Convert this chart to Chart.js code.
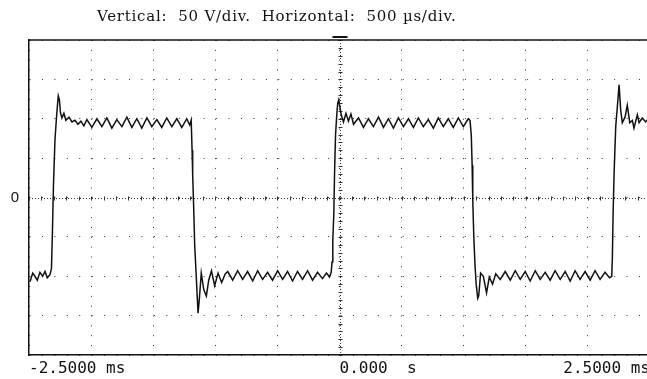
<!DOCTYPE html>
<html>
<head>
<meta charset="utf-8">
<script src="https://cdn.jsdelivr.net/npm/chart.js@4.4.1/dist/chart.umd.min.js"></script>
<style>
  html, body { margin: 0; padding: 0; background: #fff; overflow: hidden; }
  #wrap { position: relative; width: 647px; height: 379px; overflow: hidden; }
  #scope { position: absolute; left: 0; top: 0; }
  #title { position: absolute; left: 97px; top: 7px; font: 15px "DejaVu Serif", serif; letter-spacing: 0.75px; color: #111; white-space: pre; }
</style>
</head>
<body>
<div id="wrap">
  <canvas id="scope" width="654" height="379"></canvas>
  <div id="title">Vertical:  50 V/div.  Horizontal:  500 µs/div.</div>
</div>
<script>
// time in ms
const timeMs = [
  // low level at left edge
  -2.492, -2.470, -2.452, -2.433, -2.412, -2.390, -2.371, -2.353, -2.331,
  // first rising edge + overshoot
  -2.319, -2.311, -2.303, -2.291, -2.279, -2.271, -2.264, -2.255, -2.247, -2.235,
  -2.219, -2.203, -2.178, -2.154, -2.130, -2.106, -2.082, -2.058,
  // high plateau
  -2.034, -1.994, -1.953, -1.913, -1.873, -1.833, -1.793, -1.752, -1.712, -1.672,
  -1.632, -1.592, -1.551, -1.511, -1.471, -1.431, -1.391, -1.350, -1.310, -1.270,
  -1.230, -1.206,
  // falling edge + ringing
  -1.194, -1.187, -1.182, -1.174, -1.166, -1.154, -1.139, -1.129, -1.113, -1.093,
  -1.072, -1.053, -1.031, -1.005, -0.978, -0.949, -0.920,
  // low plateau
  -0.900, -0.860, -0.820, -0.780, -0.740, -0.699, -0.659, -0.619, -0.579, -0.539,
  -0.498, -0.458, -0.418, -0.378, -0.338, -0.297, -0.257, -0.217, -0.177, -0.137,
  -0.105, -0.080,
  // rising edge at trigger
  -0.067, -0.060, -0.054, -0.046, -0.040, -0.032, -0.022, -0.014, -0.006, 0.004,
  0.014, 0.032, 0.052, 0.072, 0.092, 0.113,
  // high plateau
  0.153, 0.193, 0.233, 0.273, 0.314, 0.354, 0.394, 0.434, 0.474, 0.515,
  0.555, 0.595, 0.635, 0.675, 0.715, 0.756, 0.796, 0.836, 0.876, 0.916,
  0.957, 0.997, 1.037,
  // falling edge + ringing
  1.051, 1.061, 1.068, 1.073, 1.081, 1.091, 1.101, 1.113, 1.121, 1.136,
  1.158, 1.184, 1.206, 1.232, 1.258,
  // low plateau
  1.294, 1.334, 1.375, 1.415, 1.455, 1.495, 1.535, 1.576, 1.616, 1.656,
  1.696, 1.736, 1.777, 1.817, 1.857, 1.897, 1.937, 1.978, 2.018, 2.058,
  2.098, 2.138, 2.174,
  // last rising edge
  2.192, 2.197, 2.203, 2.211, 2.224, 2.237, 2.251, 2.264, 2.277, 2.299,
  2.317, 2.337, 2.358, 2.371, 2.398, 2.412, 2.438, 2.465, 2.492
];

// volts, same order as timeMs
const volts = [
  -107, -96, -100, -105, -95, -100, -94, -102, -98,
  -90, -41, 16, 73, 101, 117, 129, 124, 108, 101,
  107, 98, 102, 96, 98, 93, 97, 91,
  99, 89, 100, 90, 101, 88, 99, 90, 102, 89,
  100, 88, 101, 90, 99, 89, 101, 90, 100, 89,
  100, 92,
  98, 60, 29, -13, -60, -98, -147, -130, -96, -117,
  -125, -105, -93, -112, -96, -108, -97,
  -94, -105, -93, -104, -94, -106, -93, -104, -95, -105,
  -93, -104, -94, -106, -94, -104, -93, -105, -95, -103,
  -96, -101,
  -95, -82, -54, -22, 29, 79, 105, 120, 124, 114,
  105, 96, 107, 97, 106, 93,
  101, 89, 100, 90, 102, 89, 100, 88, 101, 90,
  100, 89, 101, 90, 99, 88, 101, 90, 100, 89,
  101, 90, 100,
  98, 79, 41, -3, -48, -86, -111, -128, -125, -96,
  -100, -121, -101, -110, -97,
  -104, -94, -105, -93, -104, -94, -106, -93, -104, -95,
  -105, -93, -104, -94, -106, -93, -104, -94, -105, -93,
  -104, -95, -102,
  -100, -76, -20, 31, 90, 115, 143, 111, 95, 102,
  117, 95, 98, 88, 105, 95, 101, 96, 101
];

const xLabelValues = [-2.5, 0, 2.5];
const xLabelTexts = ['-2.5000 ms', '0.000  s', '2.5000 ms'];
const yZeroLabel = '0';

// centre cross with fine ticks, top frame, trigger marker
const scopeDecor = {
    id: 'scopeDecor',
    beforeDatasetsDraw(chart) {
        const { ctx, chartArea: a, scales: { x, y } } = chart;
        const cx = Math.round(x.getPixelForValue(0)) + 0.5;
        const cy = Math.round(y.getPixelForValue(0)) + 0.5;
        const subX = (x.getPixelForValue(0.5) - x.getPixelForValue(0)) / 5;
        const subY = (y.getPixelForValue(0) - y.getPixelForValue(50)) / 5;
        ctx.save();
        ctx.strokeStyle = '#333';
        ctx.lineWidth = 1;
        ctx.setLineDash([1, 2]);
        ctx.beginPath();
        ctx.moveTo(cx, a.top); ctx.lineTo(cx, a.bottom);
        ctx.moveTo(a.left, cy); ctx.lineTo(a.right, cy);
        ctx.stroke();
        ctx.setLineDash([]);
        ctx.beginPath();
        for (let py = a.top; py <= a.bottom; py += subY) {
            const yy = Math.round(py) + 0.5;
            ctx.moveTo(cx - 2, yy); ctx.lineTo(cx + 2, yy);
        }
        for (let px = a.left; px <= a.right; px += subX) {
            const xx = Math.round(px) + 0.5;
            ctx.moveTo(xx, cy - 2); ctx.lineTo(xx, cy + 2);
        }
        ctx.stroke();
        ctx.restore();
    },
    afterDraw(chart) {
        const { ctx, chartArea: a, scales: { x } } = chart;
        const cx = x.getPixelForValue(0);
        ctx.save();
        ctx.strokeStyle = '#111';
        ctx.lineWidth = 1.5;
        ctx.beginPath();
        ctx.moveTo(a.left, a.top); ctx.lineTo(a.right, a.top);
        ctx.stroke();
        ctx.fillStyle = '#111';
        ctx.fillRect(cx - 7, a.top - 4, 15, 2);
        ctx.restore();
    }
};

const points = timeMs.map((t, i) => ({ x: t, y: volts[i] }));

new Chart(document.getElementById('scope'), {
    type: 'scatter',
    data: {
        datasets: [{
            data: points,
            showLine: true,
            borderColor: '#111',
            borderWidth: 1.5,
            pointRadius: 0,
            tension: 0
        }]
    },
    options: {
        responsive: false,
        animation: false,
        layout: { padding: { top: 40, right: 0, bottom: 0, left: 0 } },
        plugins: { legend: { display: false }, tooltip: { enabled: false } },
        scales: {
            x: {
                type: 'linear',
                min: -2.5,
                max: 2.5,
                afterFit: s => { s.height = 24; },
                ticks: {
                    stepSize: 0.5,
                    autoSkip: false,
                    maxRotation: 0,
                    align: 'inner',
                    padding: 4,
                    color: '#111',
                    font: { family: 'DejaVu Sans Mono', size: 16 },
                    callback: (v) => {
                        const i = xLabelValues.findIndex(lv => Math.abs(lv - v) < 1e-6);
                        if (i < 0) return '';
                        // middle label starts at the trigger line
                        if (i === 1) return ' '.repeat(xLabelTexts[i].length) + xLabelTexts[i];
                        return xLabelTexts[i];
                    }
                },
                grid: { color: '#333', lineWidth: 1, drawTicks: false },
                border: { display: true, color: '#111', width: 1.5, dash: [1, 8.84] }
            },
            y: {
                min: -200,
                max: 200,
                afterFit: s => { s.width = 29; },
                ticks: {
                    stepSize: 50,
                    padding: 10,
                    color: '#111',
                    font: { family: 'Liberation Sans', size: 15 },
                    callback: v => (v === 0 ? yZeroLabel : '')
                },
                grid: { color: '#333', lineWidth: 1, drawTicks: false },
                border: { display: true, color: '#111', width: 1.5, dash: [1, 11.44] }
            }
        }
    },
    plugins: [scopeDecor]
});
</script>
</body>
</html>
